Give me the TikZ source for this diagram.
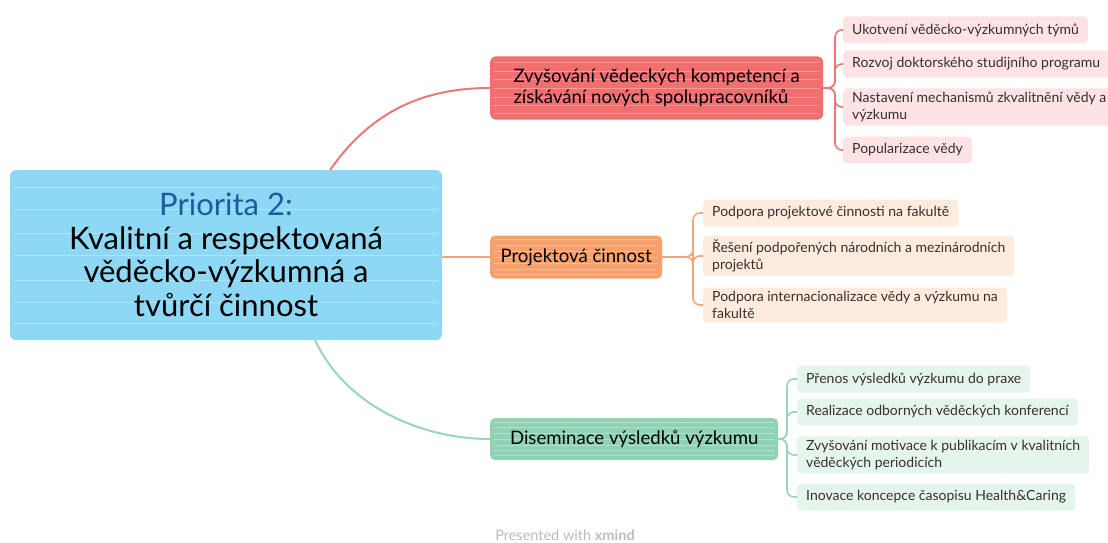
\documentclass[tikz,border=0pt]{standalone}
\usepackage{fontspec}
\setmainfont{Lato}
\usetikzlibrary{calc}
\definecolor{cenfill}{HTML}{8DD8F5}
\definecolor{titleblue}{HTML}{1B5C9C}
\definecolor{redfill}{HTML}{F26F70}
\definecolor{redline}{HTML}{E9787A}
\definecolor{redsub}{HTML}{FDE3E3}
\definecolor{orgfill}{HTML}{F6A06C}
\definecolor{orgline}{HTML}{F3A878}
\definecolor{orgsub}{HTML}{FDEBDD}
\definecolor{grnfill}{HTML}{8FD3B4}
\definecolor{grnline}{HTML}{9AD5BA}
\definecolor{grnsub}{HTML}{E4F5EC}
\definecolor{subtext}{HTML}{3A2E2E}
\definecolor{foot}{HTML}{BDBDBD}
\tikzset{
  streaks/.style={path picture={
    \foreach \f in {0.1,0.22,0.35,0.5,0.63,0.77,0.9}{
      \draw[white,opacity=0.3,line width=0.8pt]
        ($(path picture bounding box.south west)!\f!(path picture bounding box.north west)+(4pt,0)$) --
        ($(path picture bounding box.south east)!\f!(path picture bounding box.north east)+(-4pt,0)$);}}},
  cenbox/.style={fill=cenfill, rounded corners=6, streaks, align=center,
    font=\fontsize{31}{33.5}\selectfont, text=black},
  topic/.style={anchor=west, rounded corners=5, streaks, align=left,
    font=\fontsize{18.6}{21}\selectfont, text=black},
  leaf/.style={anchor=west, rounded corners=4, align=left, inner xsep=9pt,
    inner ysep=4pt, minimum height=27, font=\fontsize{14}{16.5}\selectfont, text=subtext},
  link/.style={line width=2pt},
  branch/.style={line width=1.6pt, rounded corners=7},
}
\begin{document}
\begin{tikzpicture}[x=1pt,y=-1pt]
\useasboundingbox[fill=white] (0,0) rectangle (1108,543);

% central topic
\node[cenbox, minimum width=432, minimum height=170] (cen) at (226,255)
  {{\color{titleblue}Priorita 2:}\\Kvalitní a respektovaná\\věděcko-výzkumná a\\tvůrčí činnost};

% main topics
\node[topic, fill=redfill, minimum width=333, minimum height=63] (red) at (490,88)
  {Zvyšování vědeckých kompetencí a\\získávání nových spolupracovníků};
\node[topic, fill=orgfill, minimum width=172, minimum height=43] (org) at (490,257)
  {Projektová činnost};
\node[topic, fill=grnfill, minimum width=288, minimum height=42] (grn) at (490,439)
  {Diseminace výsledků výzkumu};

% links from the central topic
\draw[link, redline] ([xshift=-112pt]cen.north east) .. controls (372,110) and (425,88) .. (red.west);
\draw[link, orgline] (cen.east |- org.west) -- (org.west);
\draw[link, grnline] ([xshift=-127pt]cen.south east) .. controls (345,405) and (420,439) .. (grn.west);

% subtopics: first branch
\node[leaf, fill=redsub] (r1) at (843,30) {Ukotvení věděcko-výzkumných týmů};
\node[leaf, fill=redsub] (r2) at (843,64) {Rozvoj doktorského studijního programu};
\node[leaf, fill=redsub] (r3) at (843,107) {Nastavení mechanismů zkvalitnění vědy a\\výzkumu};
\node[leaf, fill=redsub] (r4) at (843,150) {Popularizace vědy};
\coordinate (rj) at (835,88);
\foreach \c in {r1,r2,r3,r4}
  \draw[branch, redline] (red.east) -- (rj) |- (\c.west);

% subtopics: second branch
\node[leaf, fill=orgsub] (o1) at (703,213) {Podpora projektové činnosti na fakultě};
\node[leaf, fill=orgsub] (o2) at (703,256) {Řešení podpořených národních a mezinárodních\\projektů};
\node[leaf, fill=orgsub] (o3) at (703,305) {Podpora internacionalizace vědy a výzkumu na\\fakultě};
\coordinate (oj) at (693,257);
\foreach \c in {o1,o2,o3}
  \draw[branch, orgline] (org.east) -- (oj) |- (\c.west);

% subtopics: third branch
\node[leaf, fill=grnsub] (g1) at (797,379) {Přenos výsledků výzkumu do praxe};
\node[leaf, fill=grnsub] (g2) at (797,412) {Realizace odborných věděckých konferencí};
\node[leaf, fill=grnsub] (g3) at (797,455) {Zvyšování motivace k publikacím v kvalitních\\věděckých periodicích};
\node[leaf, fill=grnsub] (g4) at (797,497) {Inovace koncepce časopisu Health\&Caring};
\coordinate (gj) at (787,439);
\foreach \c in {g1,g2,g3,g4}
  \draw[branch, grnline] (grn.east) -- (gj) |- (\c.west);

% footer
\node[text=foot, inner sep=0pt, font=\fontsize{14.5}{16}\selectfont] (ft) at (565,535)
  {Presented with \textbf{xmind}};
\end{tikzpicture}
\end{document}
